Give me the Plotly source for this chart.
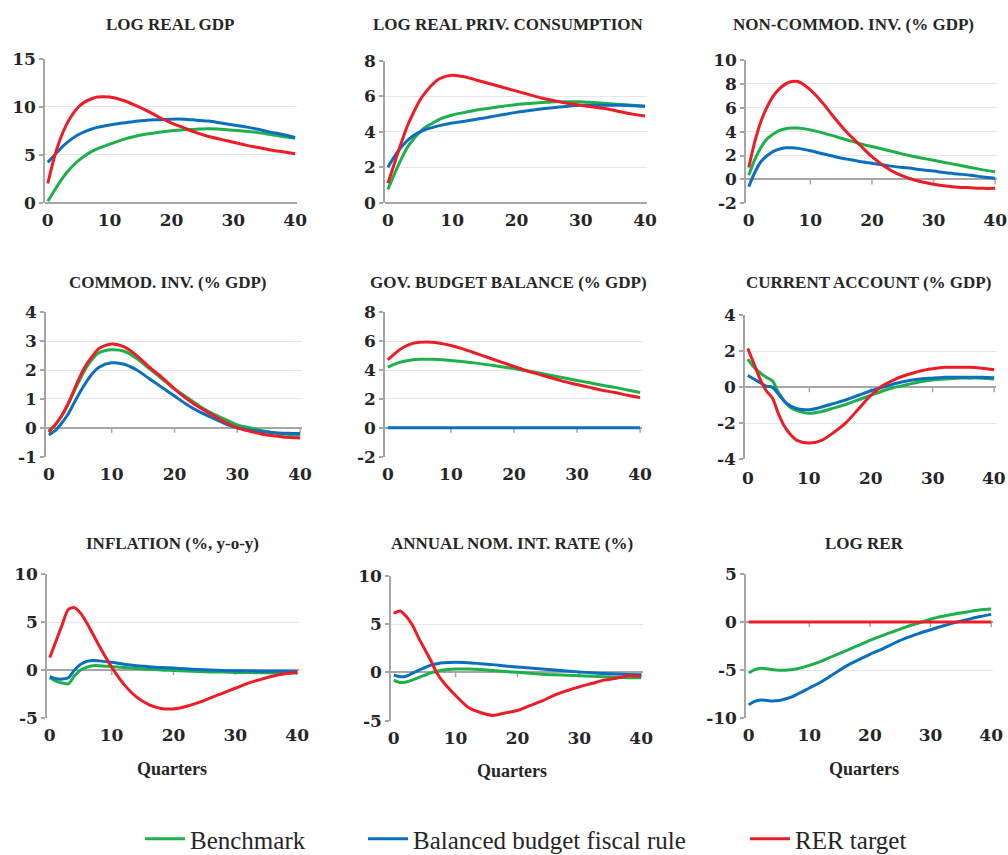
import plotly.graph_objects as go

# ---------------- data ----------------
quarters = [0, 1, 2, 3, 4, 5, 6, 7, 8, 10, 12, 14, 16, 18, 20, 22, 24, 26, 28, 30, 32, 34, 36, 38, 40]
series_names = ["Benchmark", "Balanced budget fiscal rule", "RER target"]

panel_titles = [
    "LOG REAL GDP", "LOG REAL PRIV. CONSUMPTION", "NON-COMMOD. INV. (% GDP)",
    "COMMOD. INV. (% GDP)", "GOV. BUDGET BALANCE (% GDP)", "CURRENT ACCOUNT (% GDP)",
    "INFLATION (%, y-o-y)", "ANNUAL NOM. INT. RATE (%)", "LOG RER",
]

x_ticks = [0, 10, 20, 30, 40]
x_tick_labels = ["0", "10", "20", "30", "40"]

y_ticks = [
    [0, 5, 10, 15],
    [0, 2, 4, 6, 8],
    [-2, 0, 2, 4, 6, 8, 10],
    [-1, 0, 1, 2, 3, 4],
    [-2, 0, 2, 4, 6, 8],
    [-4, -2, 0, 2, 4],
    [-5, 0, 5, 10],
    [-5, 0, 5, 10],
    [-10, -5, 0, 5],
]
y_tick_labels = [[str(v) for v in t] for t in y_ticks]

# 1 LOG REAL GDP
gdp_bench = [0.15, 1.2, 2.2, 3.1, 3.8, 4.4, 4.9, 5.3, 5.6, 6.1, 6.55, 6.9, 7.15, 7.35, 7.5, 7.6, 7.65, 7.7, 7.65, 7.55, 7.45, 7.3, 7.1, 6.9, 6.7]
gdp_bbr = [4.2, 4.9, 5.6, 6.2, 6.7, 7.1, 7.4, 7.65, 7.85, 8.1, 8.3, 8.45, 8.6, 8.65, 8.7, 8.7, 8.6, 8.5, 8.3, 8.1, 7.9, 7.65, 7.35, 7.1, 6.8]
gdp_rer = [2.0, 4.6, 6.6, 8.1, 9.2, 10.0, 10.5, 10.8, 11.0, 11.0, 10.7, 10.2, 9.6, 8.9, 8.3, 7.8, 7.3, 6.9, 6.6, 6.3, 6.0, 5.75, 5.5, 5.3, 5.1]

# 2 LOG REAL PRIV. CONSUMPTION
cons_bench = [0.75, 1.6, 2.4, 3.1, 3.6, 4.0, 4.3, 4.5, 4.7, 4.95, 5.1, 5.25, 5.35, 5.45, 5.55, 5.6, 5.65, 5.7, 5.7, 5.7, 5.65, 5.6, 5.55, 5.5, 5.45]
cons_bbr = [2.0, 2.6, 3.1, 3.5, 3.8, 4.0, 4.15, 4.25, 4.35, 4.5, 4.6, 4.72, 4.85, 4.98, 5.1, 5.2, 5.3, 5.38, 5.45, 5.5, 5.5, 5.5, 5.5, 5.48, 5.45]
cons_rer = [1.1, 2.2, 3.3, 4.3, 5.1, 5.8, 6.3, 6.7, 7.0, 7.2, 7.1, 6.9, 6.7, 6.5, 6.3, 6.1, 5.9, 5.75, 5.6, 5.5, 5.4, 5.3, 5.15, 5.0, 4.9]

# 3 NON-COMMOD. INV.
ninv_bench = [0.35, 1.7, 2.7, 3.4, 3.8, 4.1, 4.25, 4.3, 4.3, 4.15, 3.9, 3.6, 3.3, 3.0, 2.75, 2.5, 2.25, 2.0, 1.8, 1.6, 1.4, 1.2, 1.0, 0.8, 0.65]
ninv_bbr = [-0.6, 0.6, 1.5, 2.0, 2.35, 2.55, 2.65, 2.65, 2.6, 2.4, 2.15, 1.9, 1.7, 1.5, 1.35, 1.2, 1.05, 0.95, 0.8, 0.7, 0.55, 0.45, 0.35, 0.2, 0.1]
ninv_rer = [1.0, 3.2, 4.9, 6.1, 7.0, 7.6, 8.0, 8.2, 8.2, 7.5, 6.4, 5.1, 3.9, 2.9, 1.9, 1.1, 0.5, 0.1, -0.2, -0.4, -0.55, -0.65, -0.7, -0.75, -0.75]

# 4 COMMOD. INV.
cinv_bench = [-0.1, 0.1, 0.4, 0.8, 1.25, 1.7, 2.1, 2.4, 2.6, 2.7, 2.65, 2.4, 2.05, 1.7, 1.35, 1.05, 0.75, 0.5, 0.3, 0.1, 0.0, -0.1, -0.18, -0.22, -0.25]
cinv_bbr = [-0.25, -0.1, 0.15, 0.45, 0.85, 1.25, 1.6, 1.9, 2.1, 2.25, 2.2, 2.0, 1.7, 1.4, 1.1, 0.8, 0.55, 0.35, 0.15, 0.0, -0.08, -0.13, -0.17, -0.19, -0.2]
cinv_rer = [-0.15, 0.1, 0.4, 0.8, 1.3, 1.8, 2.2, 2.5, 2.75, 2.9, 2.8, 2.5, 2.1, 1.75, 1.35, 1.0, 0.7, 0.45, 0.2, 0.0, -0.12, -0.22, -0.28, -0.33, -0.35]

# 5 GOV. BUDGET BALANCE
gbb_bench = [4.2, 4.4, 4.55, 4.65, 4.72, 4.75, 4.75, 4.75, 4.73, 4.67, 4.58, 4.48, 4.36, 4.23, 4.1, 3.95, 3.8, 3.62, 3.45, 3.28, 3.12, 2.95, 2.8, 2.62, 2.45]
gbb_bbr = [0.0] * 25
gbb_rer = [4.7, 5.1, 5.45, 5.7, 5.85, 5.92, 5.95, 5.93, 5.88, 5.7, 5.45, 5.15, 4.85, 4.55, 4.25, 3.95, 3.7, 3.45, 3.2, 3.0, 2.8, 2.6, 2.45, 2.25, 2.1]

# 6 CURRENT ACCOUNT
ca_bench = [1.55, 1.1, 0.8, 0.55, 0.35, -0.3, -0.8, -1.15, -1.3, -1.45, -1.35, -1.15, -0.95, -0.7, -0.45, -0.2, 0.0, 0.15, 0.3, 0.4, 0.45, 0.5, 0.5, 0.5, 0.45]
ca_bbr = [0.65, 0.45, 0.25, 0.05, 0.0, -0.4, -0.8, -1.05, -1.2, -1.25, -1.1, -0.9, -0.7, -0.45, -0.2, 0.0, 0.2, 0.35, 0.45, 0.5, 0.55, 0.55, 0.55, 0.55, 0.52]
ca_rer = [2.15, 1.3, 0.45, -0.2, -0.6, -1.5, -2.2, -2.65, -2.95, -3.1, -2.95, -2.5, -1.95, -1.2, -0.45, 0.1, 0.45, 0.7, 0.9, 1.02, 1.1, 1.1, 1.1, 1.05, 0.97]

# 7 INFLATION
inf_bench = [-0.8, -1.15, -1.35, -1.45, -0.6, 0.0, 0.3, 0.45, 0.45, 0.35, 0.25, 0.15, 0.08, 0.0, -0.05, -0.1, -0.15, -0.2, -0.22, -0.25, -0.27, -0.28, -0.3, -0.3, -0.3]
inf_bbr = [-0.7, -0.9, -0.95, -0.8, 0.0, 0.6, 0.9, 1.0, 0.95, 0.8, 0.6, 0.45, 0.35, 0.25, 0.2, 0.12, 0.05, 0.0, -0.05, -0.08, -0.1, -0.12, -0.13, -0.14, -0.15]
inf_rer = [1.3, 3.0, 4.7, 6.3, 6.5, 5.9, 4.9, 3.7, 2.5, 0.3, -1.5, -2.8, -3.6, -4.0, -4.05, -3.8, -3.4, -2.9, -2.4, -1.9, -1.4, -1.0, -0.65, -0.4, -0.2]

# 8 ANNUAL NOM. INT. RATE
ir_bench = [-0.8, -1.05, -1.0, -0.8, -0.55, -0.3, -0.05, 0.1, 0.25, 0.35, 0.35, 0.3, 0.2, 0.1, 0.0, -0.1, -0.2, -0.25, -0.3, -0.35, -0.4, -0.45, -0.5, -0.55, -0.55]
ir_bbr = [-0.25, -0.45, -0.4, -0.1, 0.2, 0.5, 0.75, 0.9, 1.0, 1.05, 1.0, 0.9, 0.8, 0.65, 0.55, 0.45, 0.35, 0.25, 0.15, 0.05, -0.05, -0.12, -0.18, -0.22, -0.25]
ir_rer = [6.1, 6.35, 5.8, 4.9, 3.6, 2.4, 1.2, -0.1, -1.0, -2.4, -3.6, -4.15, -4.45, -4.2, -3.95, -3.45, -2.95, -2.35, -1.9, -1.5, -1.15, -0.8, -0.6, -0.35, -0.4]

# 9 LOG RER
rer_bench = [-5.3, -4.95, -4.8, -4.85, -4.95, -5.0, -5.0, -4.95, -4.85, -4.5, -4.05, -3.5, -3.0, -2.45, -1.9, -1.4, -0.95, -0.5, -0.1, 0.3, 0.6, 0.85, 1.05, 1.25, 1.35]
rer_bbr = [-8.6, -8.25, -8.1, -8.15, -8.2, -8.15, -8.0, -7.8, -7.5, -6.85, -6.2, -5.4, -4.6, -3.95, -3.35, -2.8, -2.2, -1.65, -1.2, -0.8, -0.4, -0.05, 0.25, 0.55, 0.8]
rer_rer = [0.0] * 25

panel_data = [
    (gdp_bench, gdp_bbr, gdp_rer),
    (cons_bench, cons_bbr, cons_rer),
    (ninv_bench, ninv_bbr, ninv_rer),
    (cinv_bench, cinv_bbr, cinv_rer),
    (gbb_bench, gbb_bbr, gbb_rer),
    (ca_bench, ca_bbr, ca_rer),
    (inf_bench, inf_bbr, inf_rer),
    (ir_bench, ir_bbr, ir_rer),
    (rer_bench, rer_bbr, rer_rer),
]

# ---------------- style / layout ----------------
W, H = 1008, 855
colors = ["#1DB04B", "#0B6FBF", "#EE1C25"]
legend_ids = ["legend", "legend2", "legend3"]
legend_left_px = [140, 363, 745]

# plot-area pixel boxes: left, right, top, bottom
boxes = [
    (45, 297, 58.7, 202.7), (385, 647, 61, 202.7), (746, 997, 60, 203.3),
    (46, 302, 312.3, 456.7), (385, 642, 312.3, 456.7), (745, 996, 315, 459.3),
    (47, 299, 574, 718), (391, 643, 575.7, 720.7), (746, 993, 574, 718.3),
]
title_pos = [(170, 25), (508, 25), (853, 25), (168, 282), (508, 282), (868, 282),
             (172, 543), (512, 543), (864, 543)]
quarters_pos = [(172, 769), (512, 771), (864, 769)]
# panels whose x tick labels are written as axis-referenced annotations
annotated_x_labels = {6}

AX_COL = "#A6A6A6"
GRID_COL = "#E3E6F1"
TXT_COL = "#262626"
tick_font = dict(family="DejaVu Serif", size=17, color=TXT_COL, weight="bold")
title_font = dict(family="Liberation Serif", size=17, color=TXT_COL, weight="bold")

fig = go.Figure()
layout = dict(
    width=W, height=H, autosize=False,
    margin=dict(l=0, r=0, t=0, b=0, pad=0, autoexpand=False),
    paper_bgcolor="white", plot_bgcolor="white",
    font=dict(family="Liberation Serif", color=TXT_COL),
    showlegend=True,
    annotations=[], shapes=[],
)

for i, (data, ytv, ytt, box, tpos, title) in enumerate(
        zip(panel_data, y_ticks, y_tick_labels, boxes, title_pos, panel_titles)):
    n = i + 1
    xa = "x" if n == 1 else f"x{n}"
    ya = "y" if n == 1 else f"y{n}"
    xkey = "xaxis" if n == 1 else f"xaxis{n}"
    ykey = "yaxis" if n == 1 else f"yaxis{n}"
    l, r, t, b = box
    use_ann = n in annotated_x_labels
    layout[xkey] = dict(
        domain=[l / W, r / W], anchor=ya, range=[-0.45, 40.3],
        tickvals=x_ticks, ticktext=x_tick_labels, tickfont=tick_font,
        showticklabels=not use_ann,
        showgrid=False, zeroline=False, showline=False, ticks="",
        ticklabelstandoff=5, ticklabeloverflow="allow",
        fixedrange=True, automargin=False,
    )
    if use_ann:
        for tv, tt in zip(x_ticks, x_tick_labels):
            layout["annotations"].append(dict(
                text=tt, x=tv, xref=xa, y=1 - (b + 19) / H, yref="paper",
                xanchor="center", yanchor="middle", showarrow=False,
                font=tick_font,
            ))
    layout[ykey] = dict(
        domain=[1 - b / H, 1 - t / H], anchor=xa,
        range=[min(ytv), max(ytv)],
        tickvals=ytv, ticktext=ytt, tickfont=tick_font,
        showgrid=True, gridcolor=GRID_COL, gridwidth=1,
        zeroline=True, zerolinecolor=AX_COL, zerolinewidth=1.5,
        showline=True, linecolor=AX_COL, linewidth=1.5,
        ticks="outside", ticklen=4, tickcolor=AX_COL, tickwidth=1.5,
        ticklabeloverflow="allow", fixedrange=True, automargin=False,
    )
    # category tick marks on the horizontal (zero) axis
    for tv in x_ticks[1:]:
        layout["shapes"].append(dict(
            type="line", xref=xa, yref=ya, x0=tv, x1=tv,
            ysizemode="pixel", yanchor=0, y0=0, y1=-5,
            line=dict(color=AX_COL, width=1.5), layer="below",
        ))
    layout["annotations"].append(dict(
        text=title, x=tpos[0] / W, y=1 - tpos[1] / H, xref="paper", yref="paper",
        xanchor="center", yanchor="middle", showarrow=False, font=title_font,
    ))
    for s, (vals, col, name) in enumerate(zip(data, colors, series_names)):
        fig.add_trace(go.Scatter(
            x=quarters, y=vals, mode="lines", name=name,
            line=dict(color=col, width=3, shape="spline", smoothing=0.8),
            xaxis=xa, yaxis=ya,
            showlegend=(n == 1), legend=legend_ids[s],
            hoverinfo="skip",
        ))

for qx, qy in quarters_pos:
    layout["annotations"].append(dict(
        text="Quarters", x=qx / W, y=1 - qy / H, xref="paper", yref="paper",
        xanchor="center", yanchor="middle", showarrow=False,
        font=dict(family="Liberation Serif", size=18, color=TXT_COL, weight="bold"),
    ))

leg_font = dict(family="Liberation Serif", size=25, color=TXT_COL)
for lid, lx in zip(legend_ids, legend_left_px):
    layout[lid] = dict(
        x=lx / W, y=1 - 839 / H, xanchor="left", yanchor="middle",
        orientation="h", font=leg_font, bgcolor="rgba(0,0,0,0)",
        borderwidth=0, itemwidth=40, itemclick=False, itemdoubleclick=False,
    )

fig.update_layout(**layout)
fig.write_html("out.html", config={"displayModeBar": False})
